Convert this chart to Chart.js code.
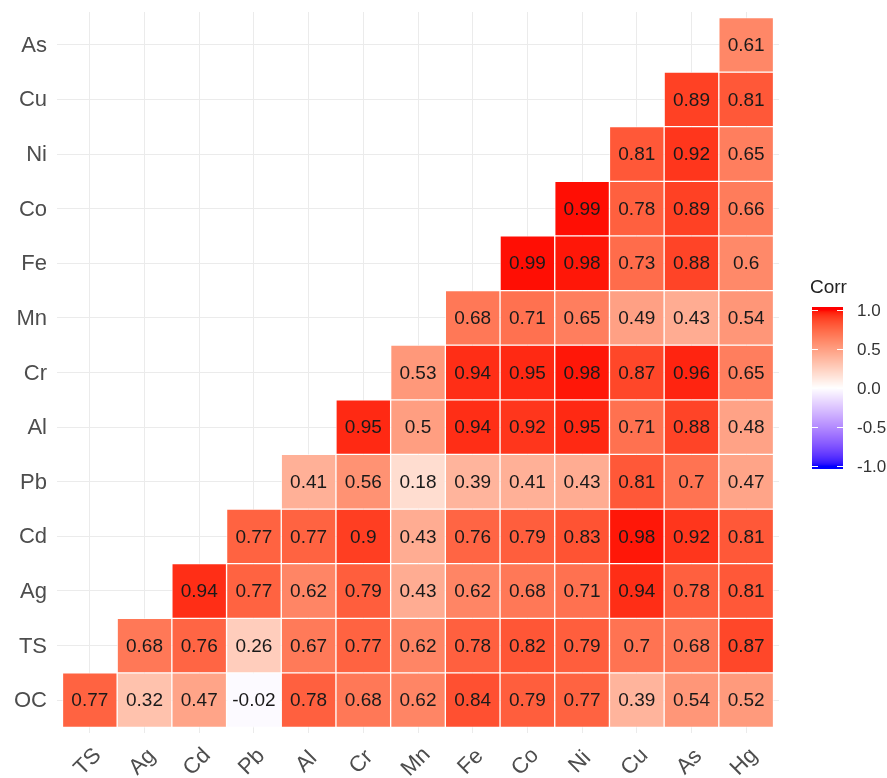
<!DOCTYPE html>
<html>
<head>
<meta charset="utf-8">
<script src="https://cdn.jsdelivr.net/npm/chart.js@4.4.1/dist/chart.umd.min.js"></script>
<style>
  html, body { margin: 0; padding: 0; background: #ffffff; }
  #wrap { width: 887px; height: 778px; position: relative; }
</style>
</head>
<body>
<div id="wrap"><canvas id="c" width="887" height="778"></canvas></div>
<script>
// ---- Data ----
const xLabels = ['TS','Ag','Cd','Pb','Al','Cr','Mn','Fe','Co','Ni','Cu','As','Hg'];
const yLabels = ['OC','TS','Ag','Cd','Pb','Al','Cr','Mn','Fe','Co','Ni','Cu','As'];

const corrOC = [0.77, 0.32, 0.47, -0.02, 0.78, 0.68, 0.62, 0.84, 0.79, 0.77, 0.39, 0.54, 0.52];
const corrTS = [null, 0.68, 0.76, 0.26, 0.67, 0.77, 0.62, 0.78, 0.82, 0.79, 0.7, 0.68, 0.87];
const corrAg = [null, null, 0.94, 0.77, 0.62, 0.79, 0.43, 0.62, 0.68, 0.71, 0.94, 0.78, 0.81];
const corrCd = [null, null, null, 0.77, 0.77, 0.9, 0.43, 0.76, 0.79, 0.83, 0.98, 0.92, 0.81];
const corrPb = [null, null, null, null, 0.41, 0.56, 0.18, 0.39, 0.41, 0.43, 0.81, 0.7, 0.47];
const corrAl = [null, null, null, null, null, 0.95, 0.5, 0.94, 0.92, 0.95, 0.71, 0.88, 0.48];
const corrCr = [null, null, null, null, null, null, 0.53, 0.94, 0.95, 0.98, 0.87, 0.96, 0.65];
const corrMn = [null, null, null, null, null, null, null, 0.68, 0.71, 0.65, 0.49, 0.43, 0.54];
const corrFe = [null, null, null, null, null, null, null, null, 0.99, 0.98, 0.73, 0.88, 0.6];
const corrCo = [null, null, null, null, null, null, null, null, null, 0.99, 0.78, 0.89, 0.66];
const corrNi = [null, null, null, null, null, null, null, null, null, null, 0.81, 0.92, 0.65];
const corrCu = [null, null, null, null, null, null, null, null, null, null, null, 0.89, 0.81];
const corrAs = [null, null, null, null, null, null, null, null, null, null, null, null, 0.61];

const rows = [corrOC, corrTS, corrAg, corrCd, corrPb, corrAl, corrCr, corrMn, corrFe, corrCo, corrNi, corrCu, corrAs];

const legendTitle = 'Corr';
const legendTicks = [1.0, 0.5, 0.0, -0.5, -1.0];
const legendTickLabels = ['1.0', '0.5', '0.0', '-0.5', '-1.0'];

// ---- Colour scale (Lab interpolation, like gradient2) ----
function srgbToLin(c){ c/=255; return c<=0.04045? c/12.92 : Math.pow((c+0.055)/1.055,2.4); }
function linToSrgb(c){ c = Math.max(0, Math.min(1, c)); return 255*(c<=0.0031308? 12.92*c : 1.055*Math.pow(c,1/2.4)-0.055); }
function rgbToLab(r,g,b){
  const R=srgbToLin(r),G=srgbToLin(g),B=srgbToLin(b);
  let X=(0.4124*R+0.3576*G+0.1805*B)/0.95047;
  let Y=(0.2126*R+0.7152*G+0.0722*B);
  let Z=(0.0193*R+0.1192*G+0.9505*B)/1.08883;
  const f=t=> t>0.008856? Math.cbrt(t) : 7.787*t+16/116;
  const fx=f(X),fy=f(Y),fz=f(Z);
  return [116*fy-16, 500*(fx-fy), 200*(fy-fz)];
}
function labToRgb(L,a,b){
  const fy=(L+16)/116, fx=fy+a/500, fz=fy-b/200;
  const finv=t=> t*t*t>0.008856? t*t*t : (t-16/116)/7.787;
  const X=0.95047*finv(fx), Y=finv(fy), Z=1.08883*finv(fz);
  const R= 3.2406*X-1.5372*Y-0.4986*Z;
  const G=-0.9689*X+1.8758*Y+0.0415*Z;
  const B= 0.0557*X-0.2040*Y+1.0570*Z;
  return [Math.round(linToSrgb(R)),Math.round(linToSrgb(G)),Math.round(linToSrgb(B))];
}
const labLow = rgbToLab(0,0,255), labMid = rgbToLab(255,255,255), labHigh = rgbToLab(255,0,0);
function corrColor(v){
  const t = Math.max(-1, Math.min(1, v));
  const end = t>=0 ? labHigh : labLow;
  const k = Math.abs(t);
  const L = labMid[0]+(end[0]-labMid[0])*k;
  const A = labMid[1]+(end[1]-labMid[1])*k;
  const B = labMid[2]+(end[2]-labMid[2])*k;
  const c = labToRgb(L,A,B);
  return 'rgb('+c[0]+','+c[1]+','+c[2]+')';
}

// ---- Build cells ----
const cells = [];
rows.forEach((row, i) => {
  row.forEach((v, j) => {
    if (v !== null) cells.push({ x: j, y: [i - 0.5, i + 0.5], v: v });
  });
});

const FONT = '"Liberation Sans", Arial, Helvetica, sans-serif';

const cellText = {
  id: 'cellText',
  afterDatasetsDraw(chart) {
    const ctx = chart.ctx;
    const meta = chart.getDatasetMeta(0);
    ctx.save();
    ctx.font = '19px ' + FONT;
    ctx.fillStyle = '#1a1a1a';
    ctx.textAlign = 'center';
    ctx.textBaseline = 'middle';
    meta.data.forEach((el, idx) => {
      const p = el.getProps(['x','y','base'], true);
      const raw = chart.data.datasets[0].data[idx];
      ctx.fillText(String(raw.v), p.x, (p.y + p.base) / 2 + 1);
    });
    ctx.restore();
  }
};

const axisLabelPlugin = {
  id: 'axisLabelPlugin',
  afterDraw(chart) {
    const ctx = chart.ctx;
    const xs = chart.scales.x, ys = chart.scales.y;
    const yLab = chart.chartArea.bottom + 29;
    ctx.save();
    ctx.font = '22px ' + FONT;
    ctx.fillStyle = '#4d4d4d';
    ctx.textAlign = 'center';
    ctx.textBaseline = 'middle';
    xLabels.forEach((lab, j) => {
      const px = xs.getPixelForValue(j) - 2;
      ctx.save();
      ctx.translate(px, yLab);
      ctx.rotate(-Math.PI / 4);
      ctx.fillText(lab, 0, 0);
      ctx.restore();
    });
    ctx.textAlign = 'right';
    yLabels.forEach((lab, i) => {
      ctx.fillText(lab, chart.chartArea.left - 10, ys.getPixelForValue(i) + 1);
    });
    ctx.restore();
  }
};

const colorbarPlugin = {
  id: 'colorbarPlugin',
  afterDraw(chart) {
    const ctx = chart.ctx;
    const barL = 812, barR = 843, barT = 307, barB = 469;
    const vTop = 310, vBot = 466; // pixel of +1 and -1
    const valToPx = v => vTop + (1 - v) / 2 * (vBot - vTop);
    ctx.save();
    for (let py = barT; py < barB; py++) {
      const v = 1 - (py + 0.5 - vTop) / (vBot - vTop) * 2;
      ctx.fillStyle = corrColor(v);
      ctx.fillRect(barL, py, barR - barL, 1);
    }
    ctx.strokeStyle = '#ffffff';
    ctx.lineWidth = 1;
    legendTicks.forEach(v => {
      const py = Math.round(valToPx(v)) + 0.5;
      ctx.beginPath();
      ctx.moveTo(barL, py); ctx.lineTo(barL + 6, py);
      ctx.moveTo(barR - 6, py); ctx.lineTo(barR, py);
      ctx.stroke();
    });
    ctx.font = '17px ' + FONT;
    ctx.fillStyle = '#333333';
    ctx.textAlign = 'left';
    ctx.textBaseline = 'middle';
    legendTicks.forEach((v, k) => {
      ctx.fillText(legendTickLabels[k], 857, valToPx(v) + 1);
    });
    ctx.font = '19px ' + FONT;
    ctx.fillStyle = '#222222';
    ctx.fillText(legendTitle, 810, 288);
    ctx.restore();
  }
};

const bgPlugin = {
  id: 'bgPlugin',
  beforeDraw(chart) {
    const ctx = chart.ctx;
    ctx.save();
    ctx.fillStyle = '#ffffff';
    ctx.fillRect(0, 0, chart.width, chart.height);
    ctx.restore();
  }
};

new Chart(document.getElementById('c'), {
  type: 'bar',
  data: {
    datasets: [{
      data: cells,
      backgroundColor: ctx => ctx.raw ? corrColor(ctx.raw.v) : 'transparent',
      borderColor: 'rgba(255,255,255,0.6)',
      borderWidth: 1,
      borderSkipped: false,
      barPercentage: 1,
      categoryPercentage: 1
    }]
  },
  options: {
    responsive: false,
    animation: false,
    layout: { padding: { top: 12, right: 108, left: 0, bottom: 0 } },
    plugins: { legend: { display: false }, tooltip: { enabled: false } },
    scales: {
      x: {
        type: 'linear',
        offset: false,
        min: -0.6, max: 12.6,
        afterBuildTicks: axis => { axis.ticks = xLabels.map((_, j) => ({ value: j })); },
        afterFit: axis => { axis.height = 45; },
        ticks: { display: false },
        grid: { color: '#ebebeb', lineWidth: 1, drawTicks: false, offset: false },
        border: { display: false }
      },
      y: {
        type: 'linear',
        offset: false,
        min: -0.6, max: 12.6,
        afterBuildTicks: axis => { axis.ticks = yLabels.map((_, i) => ({ value: i })); },
        afterFit: axis => { axis.width = 57; },
        ticks: { display: false },
        grid: { color: '#ebebeb', lineWidth: 1, drawTicks: false },
        border: { display: false }
      }
    }
  },
  plugins: [bgPlugin, cellText, axisLabelPlugin, colorbarPlugin]
});
</script>
</body>
</html>
